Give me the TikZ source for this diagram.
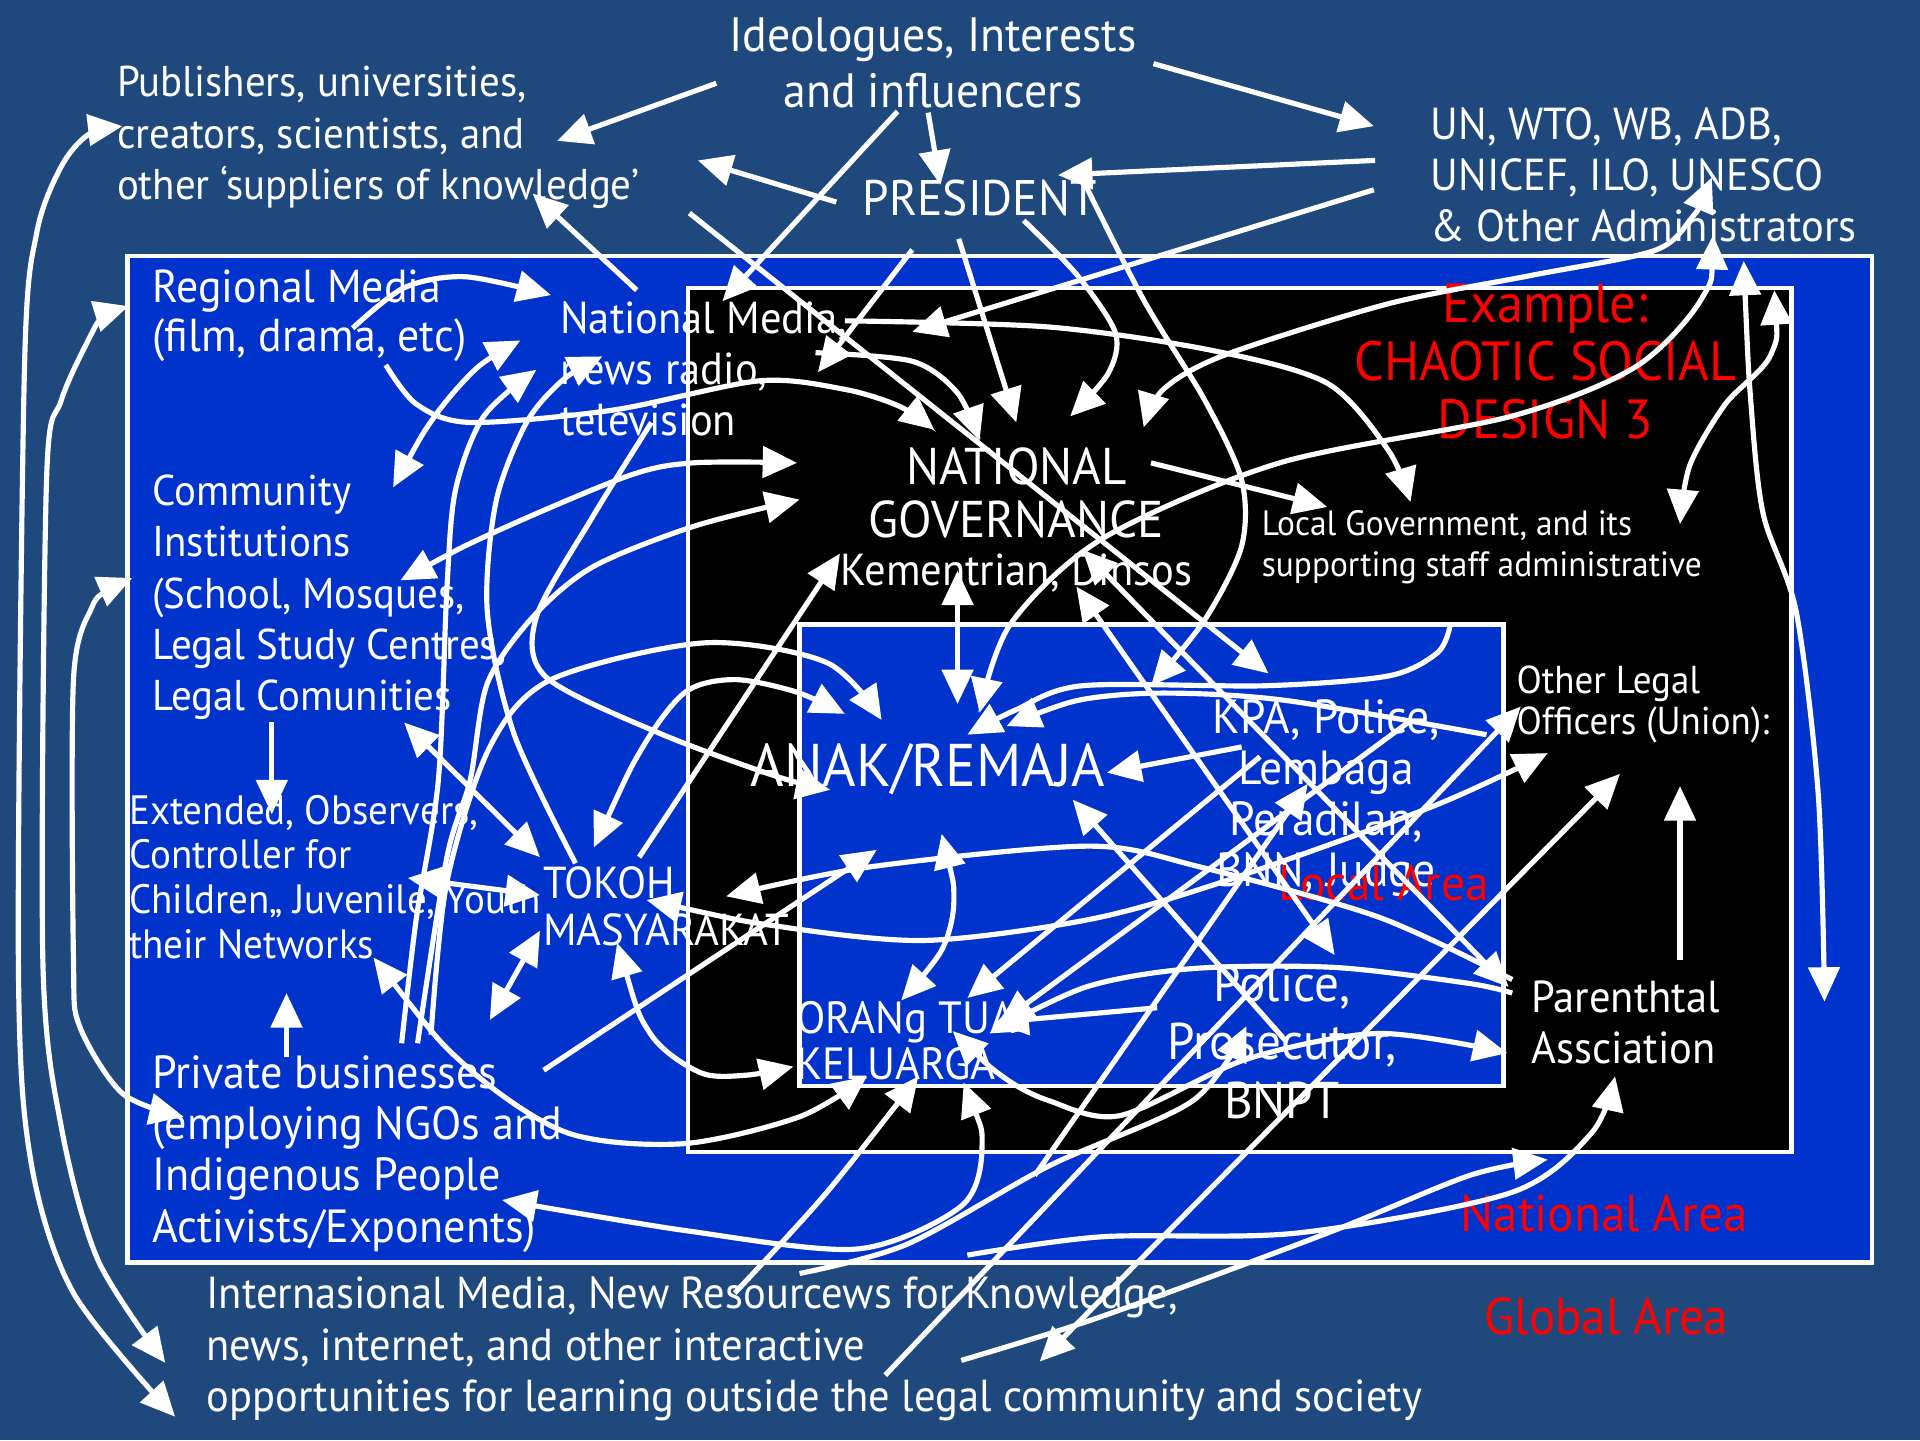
\documentclass[tikz,border=0pt]{standalone}
\usepackage{fontspec}
\setmainfont[FakeStretch=0.95]{PT Sans}
\usetikzlibrary{arrows.meta}
\definecolor{bgblue}{HTML}{1F497D}
\definecolor{natblue}{HTML}{0033CC}
\definecolor{redtxt}{HTML}{FF0000}
\newcommand{\fs}[2]{\fontsize{#1}{#2}\selectfont}
\newcommand{\tabL}[1]{\begin{tabular}[t]{@{}l@{}}#1\end{tabular}}
\newcommand{\tabC}[1]{\begin{tabular}[t]{@{}c@{}}#1\end{tabular}}
\tikzset{
  txt/.style={text=white, inner sep=0pt, anchor=base west},
  txtc/.style={text=white, inner sep=0pt, anchor=base},
  redt/.style={text=redtxt, inner sep=0pt, anchor=base},
  wl/.style={draw=white, line width=1.5pt},
  ar/.style={wl, -{Triangle[length=10pt,width=9pt]}},
  dar/.style={wl, {Triangle[length=10pt,width=9pt]}-{Triangle[length=10pt,width=9pt]}},
  boxw/.style={draw=white, line width=1.3pt},
}
\begin{document}
\begin{tikzpicture}[x=0.0125cm,y=-0.0125cm]
\useasboundingbox (0,0) rectangle (1568,1176);
\fill[bgblue] (0,0) rectangle (1568,1176);
% area boxes
\filldraw[boxw, fill=natblue] (104,209) rectangle (1529,1031);
\filldraw[boxw, fill=black] (562,235) rectangle (1463,941);
\filldraw[boxw, fill=natblue] (653,510) rectangle (1228,887);

% texts
\node[txt] (pub) at (95,79) {\fs{12.5}{14.9}\tabL{Publishers, universities,\\creators, scientists, and\\other ‘suppliers of knowledge’}};
\node[txtc] (ideo) at (762,42) {\fs{14}{16.4}\tabC{Ideologues, Interests\\and influencers}};
\node[txt] (un) at (1168,114) {\fs{13}{14.8}\tabL{UN, WTO, WB, ADB,\\UNICEF, ILO, UNESCO\\\& Other Administrators}};
\node[txtc] (pres) at (800,176) {\fs{14.5}{16}PRESIDENT};
\node[txt] (regm) at (124,247) {\fs{13.4}{14.2}\tabL{Regional Media\\(film, drama, etc)}};
\node[txt] (natm) at (457,272) {\fs{13}{14.9}\tabL{National Media,\\news radio,\\television}};
\node[redt] (ex) at (1262,263) {\fs{16}{16.9}\tabC{Example:\\CHAOTIC SOCIAL\\DESIGN 3}};
\node[txtc] (ng) at (830,396) {\fs{15}{15}\tabC{NATIONAL\\GOVERNANCE}};
\node[txtc] (kem) at (830,478) {\fs{13}{15}Kementrian, Dinsos};
\node[txt] (locg) at (1030,437) {\fs{10.2}{12.1}\tabL{Local Government, and its\\supporting staff administrative}};
\node[txt] (comm) at (124,413) {\fs{12.5}{14.85}\tabL{Community\\Institutions\\(School, Mosques,\\Legal Study Centres,\\Legal Comunities}};
\node[txt] (olo) at (1238,566) {\fs{11.3}{12.1}\tabL{Other Legal\\Officers (Union):}};
\node[txtc] (kpa) at (1083,599) {\fs{13.9}{14.85}\tabC{KPA, Police,\\Lembaga\\Peradilan,\\BNN, Judge}};
\node[txtc] (anak) at (758,642) {\fs{17.5}{18}ANAK/REMAJA};
\node[txt] (ext) at (105,673) {\fs{11.9}{13}\tabL{Extended, Observers,\\Controller for\\Children,, Juvenile, Youth\\their Networks}};
\node[txt] (tok) at (443,734) {\fs{13}{13.5}\tabL{TOKOH\\MASYARAKAT}};
\node[txt] (par) at (1250,827) {\fs{13}{14.9}\tabL{Parenthtal\\Assciation}};
\node[txtc] (pol) at (1047,818) {\fs{15}{16.9}\tabC{Police,\\Prosecutor,\\BNPT}};
\node[txt] (ora) at (650,844) {\fs{13.1}{13.2}\tabL{ORANg TUA\\KELUARGA}};
\node[txt] (priv) at (124,889) {\fs{13.5}{14.85}\tabL{Private businesses\\(employing NGOs and\\Indigenous People\\Activists/Exponents)}};
\node[txt] (intl) at (168,1069) {\fs{13}{14.9}\tabL{Internasional Media, New Resourcews for Knowledge,\\news, internet, and other interactive\\opportunities for learning outside the legal community and society}};
\node[redt] (loc) at (1130,735) {\fs{14.5}{16}Local Area};
\node[redt] (nat) at (1310,1006) {\fs{15}{16}National Area};
\node[redt] (glob) at (1312,1090) {\fs{15}{16}Global Area};

% ---- top arrows
\draw[ar] (585,68) -- (455,115);
\draw[ar] (942,52) -- (1122,103);
\draw[ar] (758,92) -- (768,151);
\draw[ar] (733,91) -- (590,246);
\draw[ar] (683,165) -- (570,131);
\draw[ar] (1123,131) -- (864,143);
\draw[ar] (1122,155) -- (745,271);
\draw[ar] (745,204) -- (668,304);
\draw[ar] (783,195) -- (830,345);
\draw[ar] plot[smooth] coordinates {(836,180) (880,225) (911,272) (905,305) (874,340)};
\draw[dar] plot[smooth] coordinates {(1398,145) (1380,180) (1350,205) (1250,225) (1134,248) (1000,290) (950,318) (934,349)};
\draw[dar] plot[smooth] coordinates {(1399,192) (1389,245) (1335,300) (1234,340) (1045,378) (900,440) (825,510) (800,582)};
\draw[dar] plot[smooth] coordinates {(1424,213) (1430,330) (1440,420) (1467,500) (1485,650) (1490,818)};
\draw[dar] plot[smooth] coordinates {(1449,237) (1446,290) (1409,330) (1380,380) (1372,428)};
\draw[ar] plot[smooth] coordinates {(882,142) (934,245) (984,327) (1014,392) (1014,446) (984,506) (940,560)};

% ---- national media / regional
\draw[ar] (520,237) -- (435,158);
\draw[ar] plot[smooth] coordinates {(288,268) (330,235) (380,226) (450,241)};
\draw[ar] plot[smooth] coordinates {(315,298) (340,330) (384,345) (500,335) (620,311) (690,318) (735,332) (763,351)};
\draw[dar] plot[smooth] coordinates {(321,398) (355,340) (390,300) (425,278)};
\draw[ar] plot[smooth] coordinates {(328,852) (340,750) (358,637) (365,480) (372,400) (395,340) (438,302)};
\draw[ar] plot[smooth] coordinates {(470,705) (420,600) (398,500) (405,410) (430,345) (460,310) (492,291)};
\draw[ar] plot[smooth] coordinates {(532,345) (484,422) (438,504) (446,553) (539,599) (634,634) (678,645)};
\draw[dar] plot[smooth] coordinates {(327,474) (403,435) (512,389) (566,378) (651,378)};
\draw[ar] plot[smooth] coordinates {(341,852) (365,700) (384,637) (398,558) (435,504) (484,463) (566,430) (653,408)};
\draw[ar] plot[smooth] coordinates {(666,288) (745,295) (782,321) (800,360)};
\draw[ar] plot[smooth] coordinates {(690,262) (856,267) (989,286) (1084,313) (1134,368) (1152,410)};
\draw[ar] (940,378) -- (1084,414);
\draw[ar] (563,174) -- (1036,550);
\draw[dar] (782,466) -- (782,575);
\draw[dar] (884,449) -- (1232,806);
\draw[dar] (879,479) -- (1090,780);
\draw[ar] (1050,850) -- (876,653);

% ---- community column
\draw[ar] (222,590) -- (222,665);
\draw[ar] (234,863) -- (234,811);
\draw[dar] (330,590) -- (441,700);
\draw[dar] (333,717) -- (441,731);
\draw[dar] plot[smooth] coordinates {(305,782) (381,871) (463,925) (558,934) (653,912) (708,879)};
\draw[dar] (441,760) -- (400,833);
\draw[dar] plot[smooth] coordinates {(504,770) (531,844) (572,876) (610,878) (648,871)};
\draw[ar] (444,874) -- (716,694);
\draw[ar] (522,700) -- (686,452);
\draw[dar] plot[smooth] coordinates {(485,692) (525,610) (560,565) (600,555) (650,565) (690,583)};
\draw[ar] plot[smooth] coordinates {(352,845) (365,720) (400,610) (450,555) (575,525) (675,541) (720,588)};

% ---- anak / local area
\draw[ar] plot[smooth] coordinates {(1184,512) (1174,533) (1134,552) (1034,560) (884,560) (829,580) (790,600)};
\draw[ar] plot[smooth] coordinates {(1214,600) (1050,572) (950,566) (880,572) (822,593)};
\draw[ar] (1014,610) -- (904,631);
\draw[dar] plot[smooth] coordinates {(528,735) (639,757) (756,768) (889,751) (996,721) (1169,659) (1264,615)};
\draw[ar] plot[smooth] coordinates {(1235,800) (1126,749) (980,708) (889,691) (710,708) (593,732)};
\draw[dar] plot[smooth] coordinates {(769,681) (779,735) (769,776) (736,817)};
\draw[ar] (1029,618) -- (790,815);
\draw[ar] (1150,590) -- (816,836);
\draw[ar] plot[smooth] coordinates {(1235,811) (1199,803) (1089,790) (974,791) (887,806) (808,844)};
\draw[ar] (945,823) -- (812,835);
\draw[dar] plot[smooth] coordinates {(778,842) (820,880) (857,899) (915,911) (1018,865) (1126,844) (1231,860)};
\draw[ar] (1372,784) -- (1372,642);

% ---- from the global area (bottom)
\draw[dar] (1323,632) -- (849,1112);
\draw[ar] (723,1123) -- (1242,577);
\draw[ar] (845,960) -- (1068,640);
\draw[ar] plot[smooth] coordinates {(785,1111) (900,1075) (1084,1007) (1200,960) (1264,947)};
\draw[ar] plot[smooth] coordinates {(653,1040) (741,1016) (857,952) (974,899) (1018,838)};
\draw[ar] plot[smooth] coordinates {(790,1025) (900,1010) (1059,1007) (1234,974) (1300,925) (1319,879)};
\draw[ar] plot[smooth] coordinates {(600,1056) (675,974) (750,879)};
\draw[dar] plot[smooth] coordinates {(787,884) (802,937) (785,985) (700,1020) (560,1005) (410,980)};

% ---- far left long arrows
\draw[dar] plot[smooth] coordinates {(100,103) (72,110) (50,136) (30,190) (20,300) (15,784) (25,947) (60,1056) (143,1157)};
\draw[dar] plot[smooth] coordinates {(105,250) (85,258) (75,272) (50,327) (38,392) (35,784) (50,920) (80,1029) (135,1113)};
\draw[dar] plot[smooth] coordinates {(108,472) (88,482) (75,496) (60,555) (60,784) (65,838) (100,893) (150,912)};
\end{tikzpicture}
\end{document}
